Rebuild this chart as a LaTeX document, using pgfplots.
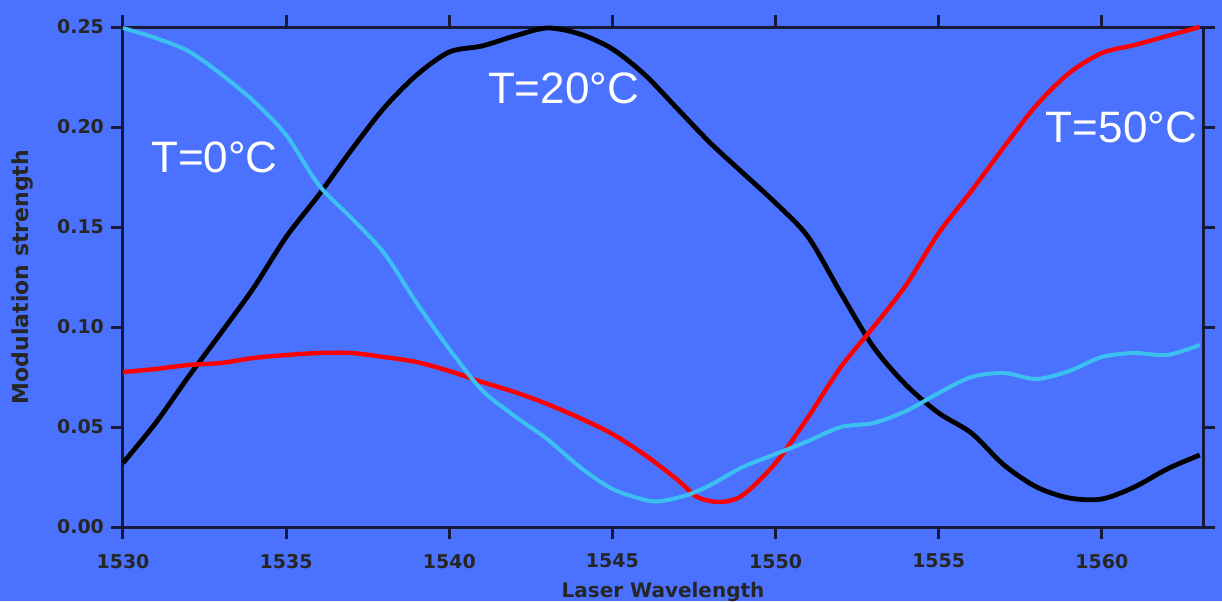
\documentclass[border=0pt]{standalone}
\usepackage{fontspec}
\setmainfont{DejaVu Sans}
\newfontfamily\annot{Liberation Sans}
\usepackage{xcolor}
\usepackage{pgfplots}
\pgfplotsset{compat=1.18}

\definecolor{bg}{HTML}{4A72FF}
\definecolor{axcol}{HTML}{15193A}
\definecolor{cyanline}{HTML}{3CC0F0}
\definecolor{redline}{HTML}{FF0000}
\pagecolor{bg}

\begin{document}
\begin{tikzpicture}
\begin{axis}[
    scale only axis,
    width=540pt, height=250pt,
    xmin=1530, xmax=1563.1,
    ymin=0, ymax=0.25,
    xtick={1530,1535,1540,1545,1550,1555,1560},
    ytick={0,0.05,0.10,0.15,0.20,0.25},
    tick align=outside,
    major tick length=6pt,
    axis line style={line width=1.5pt, axcol},
    every tick/.style={line width=1.5pt, axcol},
    xticklabel pos=bottom,
    yticklabel pos=left,
    xticklabel style={/pgf/number format/set thousands separator={}, font=\bfseries\fontsize{9.5}{10}\selectfont, text=black!85, yshift=-4pt},
    yticklabel style={/pgf/number format/.cd, fixed, fixed zerofill, precision=2, /tikz/.cd, font=\bfseries\fontsize{9.5}{10}\selectfont, text=black!85},
    /pgf/number format/assume math mode=true,
    xlabel={Laser Wavelength},
    ylabel={Modulation strength},
    xlabel style={font=\bfseries\fontsize{10}{12}\selectfont, text=black!85, yshift=0pt},
    ylabel style={font=\bfseries\fontsize{11}{12}\selectfont, text=black!85, yshift=5pt},
    clip=false,
]
\coordinate (bl) at (rel axis cs:0,0);
\coordinate (tr) at (rel axis cs:1,1);

% T = 20 C
\addplot[black, line width=2.4pt, smooth, tension=0.5] coordinates {
(1530,0.032)(1531,0.052)(1532,0.075)(1533,0.097)(1534,0.1195)(1535,0.145)
(1536,0.166)(1537,0.1885)(1538,0.2095)(1539,0.226)(1540,0.2375)(1541,0.2405)
(1542,0.2455)(1543,0.2495)(1544,0.2465)(1545,0.239)(1546,0.226)(1547,0.209)
(1548,0.192)(1549,0.177)(1550,0.162)(1551,0.145)(1552,0.117)(1553,0.090)
(1554,0.071)(1555,0.057)(1556,0.047)(1557,0.031)(1558,0.020)(1559,0.0145)
(1560,0.014)(1561,0.020)(1562,0.029)(1563,0.036)
};

% T = 50 C
\addplot[redline, line width=2.2pt, smooth, tension=0.5] coordinates {
(1530,0.0775)(1531,0.079)(1532,0.081)(1533,0.082)(1534,0.0845)(1535,0.086)
(1536,0.087)(1537,0.087)(1538,0.085)(1539,0.0825)(1540,0.078)(1541,0.0725)
(1542,0.0675)(1543,0.0615)(1544,0.0545)(1545,0.0465)(1546,0.036)(1547,0.0235)
(1547.6,0.015)(1548.3,0.0125)(1549,0.016)(1550,0.032)(1551,0.055)(1552,0.080)
(1553,0.100)(1554,0.121)(1555,0.147)(1556,0.168)(1557,0.190)(1558,0.211)
(1559,0.227)(1560,0.237)(1561,0.241)(1562,0.2455)(1563,0.25)
};

% T = 0 C
\addplot[cyanline, line width=2pt, smooth, tension=0.5] coordinates {
(1530,0.2495)(1531,0.2445)(1532,0.238)(1533,0.2265)(1534,0.213)(1535,0.196)
(1536,0.171)(1537,0.1545)(1538,0.137)(1539,0.112)(1540,0.089)(1541,0.0685)
(1542,0.0555)(1543,0.044)(1544,0.030)(1545,0.019)(1546,0.0135)(1546.5,0.013)
(1547.3,0.016)(1548,0.021)(1549,0.030)(1550,0.0365)(1551,0.043)(1552,0.050)
(1553,0.052)(1554,0.058)(1555,0.067)(1556,0.075)(1557,0.077)(1558,0.074)
(1559,0.078)(1560,0.085)(1561,0.087)(1562,0.086)(1563,0.091)
};

\node[text=white, font=\annot\fontsize{22}{24}\selectfont] at (axis cs:1532.8,0.185) {T=0°C};
\node[text=white, font=\annot\fontsize{22}{24}\selectfont] at (axis cs:1543.5,0.2195) {T=20°C};
\node[text=white, font=\annot\fontsize{22}{24}\selectfont] at (axis cs:1560.6,0.200) {T=50°C};
\end{axis}
\pgfresetboundingbox
\useasboundingbox ([shift={(-61.5pt,-37pt)}]bl) rectangle ([shift={(9.5pt,13.5pt)}]tr);
\end{tikzpicture}
\end{document}
